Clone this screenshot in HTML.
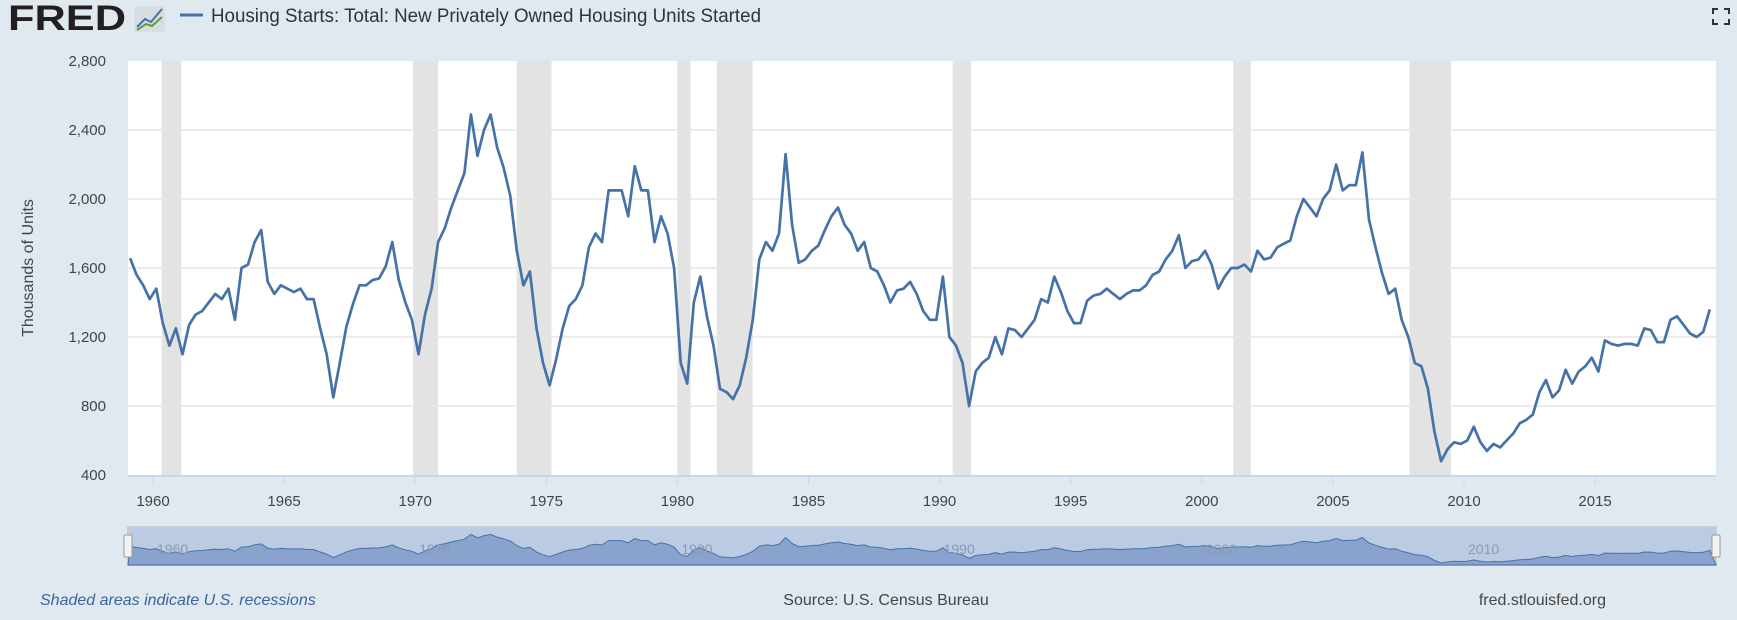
<!DOCTYPE html>
<html><head><meta charset="utf-8"><style>
body{margin:0;width:1737px;height:620px;background:#e1e9f0;font-family:"Liberation Sans",sans-serif;overflow:hidden}
svg{position:absolute;left:0;top:0}
</style></head><body>
<svg id="c" width="1737" height="620">
<g>
<text x="8" y="30" font-size="35" font-weight="bold" fill="#231f20" font-family="Liberation Sans" textLength="118" lengthAdjust="spacingAndGlyphs">FRED</text>
<rect x="134" y="6" width="31" height="26" rx="3" fill="#d7dde3"/>
<polyline points="137,27 145,19 151,22 162,9" fill="none" stroke="#4572a7" stroke-width="2"/>
<polyline points="137,30 146,24 152,26 162,17" fill="none" stroke="#5aa02c" stroke-width="2"/>
</g>
<line x1="180" y1="15" x2="203" y2="15" stroke="#4572a7" stroke-width="3"/>
<text x="211" y="22" font-size="19" fill="#333" textLength="550" lengthAdjust="spacingAndGlyphs">Housing Starts: Total: New Privately Owned Housing Units Started</text>
<g stroke="#333" stroke-width="2" fill="none">
<polyline points="1713,14 1713,9 1718,9"/><polyline points="1724,9 1729,9 1729,14"/><polyline points="1713,19 1713,24 1718,24"/><polyline points="1724,24 1729,24 1729,19"/>
</g>
<rect x="128" y="61" width="1588" height="414" fill="#fff"/>
<g id="rec"></g><g id="grid"></g><g id="yt"></g><g id="xt"></g><g id="ln"></g><g id="nav"></g>
<text transform="translate(33,268) rotate(-90)" text-anchor="middle" font-size="16" fill="#444">Thousands of Units</text>
<text x="40" y="605" font-size="16" font-style="italic" fill="#3a64a0">Shaded areas indicate U.S. recessions</text>
<text x="886" y="605" text-anchor="middle" font-size="16" fill="#444">Source: U.S. Census Bureau</text>
<text x="1606" y="605" text-anchor="end" font-size="16" fill="#444">fred.stlouisfed.org</text>
</svg>
<script>
const startYear = 1959;
const values = [
1657,1560,1500,1420, 1480,1280,1150,1250, 1100,1270,1330,1350, 1400,1450,1420,1480,
1300,1600,1620,1750, 1820,1520,1450,1500, 1480,1460,1480,1420, 1420,1250,1100,850,
1050,1260,1390,1500, 1500,1530,1540,1610, 1750,1530,1400,1300, 1100,1330,1480,1750,
1830,1950,2050,2150, 2490,2250,2400,2490, 2300,2180,2020,1700, 1500,1580,1250,1050,
920,1070,1250,1380, 1420,1500,1720,1800, 1750,2050,2050,2050, 1900,2190,2050,2050,
1750,1900,1800,1600, 1050,930,1400,1550, 1320,1150,900,880, 840,920,1080,1300,
1650,1750,1700,1800, 2260,1850,1630,1650, 1700,1730,1820,1900, 1950,1850,1800,1700,
1750,1600,1580,1500, 1400,1470,1480,1520, 1450,1350,1300,1300, 1550,1200,1150,1050,
800,1000,1050,1080, 1200,1100,1250,1240, 1200,1250,1300,1420, 1400,1550,1460,1350,
1280,1280,1410,1440, 1450,1480,1450,1420, 1450,1470,1470,1500, 1560,1580,1650,1700,
1790,1600,1640,1650, 1700,1620,1480,1550, 1600,1600,1620,1580, 1700,1650,1660,1720,
1740,1760,1900,2000, 1950,1900,2000,2050, 2200,2050,2080,2080, 2270,1880,1720,1570,
1450,1480,1300,1200, 1050,1030,900,650, 480,550,590,580, 600,680,590,540,
580,560,600,640, 700,720,750,880, 950,850,890,1010, 930,1000,1030,1080,
1000,1180,1160,1150, 1160,1160,1150,1250, 1240,1170,1170,1300, 1320,1270,1220,1200,
1230,1360];
const recStart = [1960.33,1969.92,1973.87,1980.0,1981.5,1990.5,2001.2,2007.92];
const recEnd   = [1961.08,1970.87,1975.2,1980.5,1982.87,1991.2,2001.87,2009.5];
const yTicks = [400,800,1200,1600,2000,2400,2800];
const yTickLabels = ["400","800","1,200","1,600","2,000","2,400","2,800"];
const xTicks = [1960,1965,1970,1975,1980,1985,1990,1995,2000,2005,2010,2015];
const NS="http://www.w3.org/2000/svg";
const X0=128,X1=1716,Y0=61,Y1=475;
const xs=t=>153+(t-1960)*26.22;
const ys=v=>Y1-(v-400)/2400*(Y1-Y0);
const nys=v=>564-(v-400)/2400*34;
function mk(tag,at,par){const e=document.createElementNS(NS,tag);for(const k in at)e.setAttribute(k,at[k]);document.getElementById(par).appendChild(e);return e;}
recStart.forEach((s,i)=>{const e=mk('rect',{x:xs(s),y:Y0,width:xs(recEnd[i])-xs(s),height:Y1-Y0,fill:'#e3e3e3'},'rec');

});
yTicks.forEach((v,i)=>{if(v>400&&v<2800){const g=mk('line',{x1:X0,x2:X1,y1:ys(v),y2:ys(v),stroke:'#e6e6e6','stroke-width':1.5},'grid');

}
const t=mk('text',{x:106,y:ys(v)+5,'text-anchor':'end','font-size':15,fill:'#444'},'yt');t.textContent=yTickLabels[i];

});
mk('line',{x1:X0,x2:X1,y1:Y1+1,y2:Y1+1,stroke:'#ccd6eb','stroke-width':2},'xt');
xTicks.forEach(y=>{mk('line',{x1:xs(y),x2:xs(y),y1:Y1+2,y2:Y1+10,stroke:'#ccd6eb'},'xt');
const t=mk('text',{x:xs(y),y:506,'text-anchor':'middle','font-size':15,fill:'#444'},'xt');t.textContent=y;

});
const pts=values.map((v,i)=>[xs(startYear+i/4+0.125),v]);
const l=mk('polyline',{points:pts.map(p=>p[0].toFixed(1)+','+ys(p[1]).toFixed(1)).join(' '),fill:'none',stroke:'#4572a7','stroke-width':2.7,'stroke-linejoin':'round'},'ln');


const nb=mk('rect',{x:X0,y:527,width:X1-X0,height:38,fill:'#bccbe4',stroke:'#ccc','stroke-width':2},'nav');


const np=mk('polygon',{points:X0+',565 '+pts.map(p=>p[0].toFixed(1)+','+nys(p[1]).toFixed(1)).join(' ')+' '+X1+',565',fill:'#8aa3cc',stroke:'#4572a7','stroke-width':1},'nav');


[1960,1970,1980,1990,2000,2010].forEach(y=>{const t=mk('text',{x:xs(y)+4,y:554,'font-size':14,fill:'#8a9ab5'},'nav');t.textContent=y;

});
[X0,X1].forEach(x=>{const h=mk('rect',{x:x-4,y:535,width:8,height:22,fill:'#f2f2f2',stroke:'#999',rx:1},'nav');

});
</script>
</body></html>
